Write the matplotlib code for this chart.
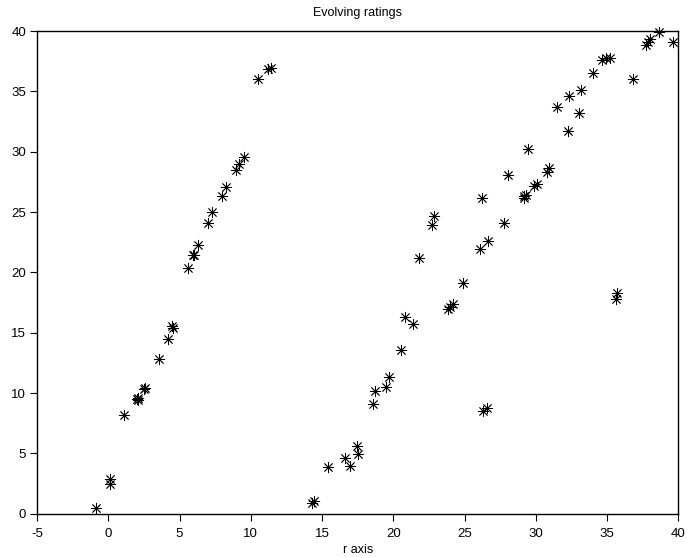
import matplotlib
matplotlib.use("Agg")
from matplotlib import pyplot as plt

plt.rcParams['font.family'] = ['Liberation Sans', 'DejaVu Sans']
plt.rcParams['axes.unicode_minus'] = False

# left branch
x_left = [-0.9, 0.1, 0.1, 1.1, 2.0, 2.05, 2.1, 2.5, 2.55, 3.55, 4.2, 4.5, 4.55,
          5.6, 5.95, 6.0, 6.3, 7.0, 7.25, 7.95, 8.25, 8.95, 9.2, 9.55,
          10.5, 11.2, 11.4]
y_left = [0.5, 2.85, 2.5, 8.2, 9.5, 9.6, 9.45, 10.35, 10.4, 12.8, 14.5, 15.55, 15.35,
          20.35, 21.4, 21.45, 22.3, 24.05, 25.0, 26.35, 27.1, 28.5, 29.0, 29.6,
          36.0, 36.85, 36.95]

# right branch
x_right = [14.3, 14.4, 15.45, 16.6, 16.95, 17.45, 17.55, 18.6, 18.7, 19.5, 19.7,
           20.55, 20.85, 21.35, 21.8, 22.75, 22.85, 23.85, 24.0, 24.2, 24.9,
           26.1, 26.25, 26.3, 26.55, 26.65, 27.8, 28.05, 29.15, 29.2, 29.3,
           29.45, 29.85, 30.05, 30.8, 30.9, 31.5, 32.25, 32.3, 33.05, 33.15,
           34.05, 34.65, 34.9, 35.2, 35.6, 35.7, 36.85, 37.75, 37.9, 38.0,
           38.65, 39.6]
y_right = [0.9, 1.05, 3.9, 4.6, 3.95, 5.6, 4.95, 9.1, 10.15, 10.5, 11.3,
           13.6, 16.3, 15.7, 21.2, 23.9, 24.7, 17.0, 17.15, 17.35, 19.1,
           21.9, 26.2, 8.55, 8.75, 22.6, 24.05, 28.05, 26.2, 26.35, 26.4,
           30.2, 27.15, 27.35, 28.35, 28.65, 33.7, 31.7, 34.6, 33.2, 35.1,
           36.5, 37.6, 37.8, 37.8, 17.8, 18.25, 36.0, 38.85, 39.1, 39.3,
           39.9, 39.1]

x_ticks = [-5, 0, 5, 10, 15, 20, 25, 30, 35, 40]
y_ticks = [0, 5, 10, 15, 20, 25, 30, 35, 40]

fig = plt.figure(figsize=(6.87, 5.58), dpi=100)
ax = fig.add_axes([0.054, 0.0794, 0.9333, 0.865])

star = (8, 2, 0)
ax.plot(x_left + x_right, y_left + y_right, linestyle='none', marker=star,
        markersize=8, markeredgewidth=0.6, color='black', clip_on=False)

ax.set_xlim(-5, 40)
ax.set_ylim(0, 40)
ax.set_xticks(x_ticks)
ax.set_yticks(y_ticks)
ax.tick_params(direction='out', length=5, width=0.8, labelsize=9.5,
               top=False, right=False)
ax.tick_params(axis='x', pad=5)
ax.tick_params(axis='y', pad=3)
for s in ax.spines.values():
    s.set_linewidth(1.0)

ax.set_title("Evolving ratings", fontsize=9, pad=11)
ax.set_xlabel("r axis", fontsize=9, labelpad=3)

fig.savefig("out.png", dpi=100)
